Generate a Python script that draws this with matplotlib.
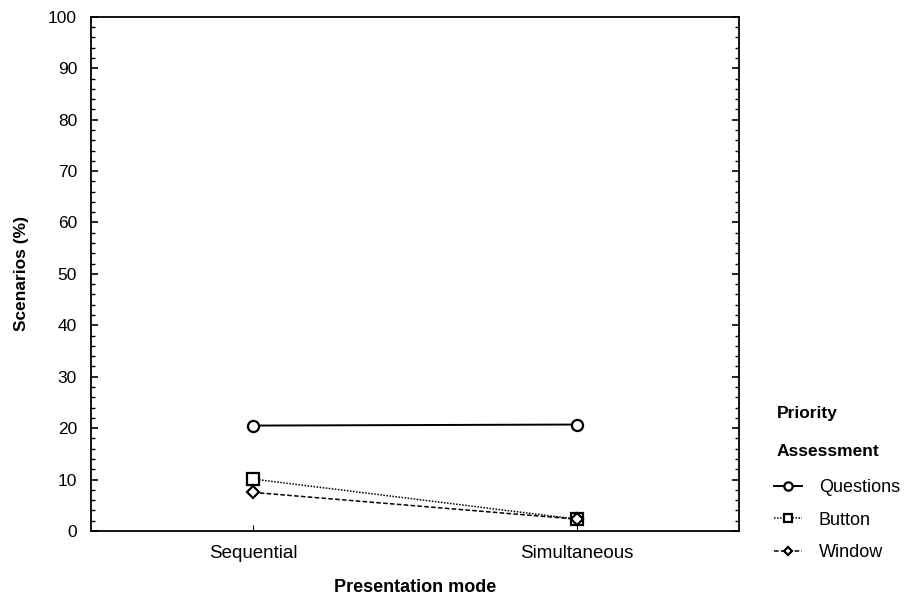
import numpy as np
import matplotlib.pyplot as plt
from matplotlib.ticker import MultipleLocator

plt.rcParams['font.family'] = ['Liberation Sans', 'DejaVu Sans']

# Percentage of scenarios by presentation mode
modes = ['Sequential', 'Simultaneous']
questions = [20.5, 20.7]
button = [10.1, 2.3]
window = [7.5, 2.3]

fig = plt.figure(figsize=(9.19, 6.02), dpi=100)
ax = fig.add_axes([0.099, 0.118, 0.705, 0.854])

x = np.arange(len(modes))
ax.plot(x, questions, '-', color='black', lw=1.4, marker='o', ms=8,
        mfc='white', mec='black', mew=1.6, label='Questions')
ax.plot(x, button, linestyle=(0, (1, 1)), color='black', lw=1.1, marker='s', ms=8,
        mfc='white', mec='black', mew=1.6, label='Button')
ax.plot(x, window, linestyle=(0, (3, 1.5)), color='black', lw=1.1, marker='D', ms=6,
        mfc='white', mec='black', mew=1.6, label='Window')

ax.set_xlim(-0.5, 1.5)
ax.set_ylim(0, 100)
ax.set_xticks(x)
ax.set_xticklabels(modes)
ax.yaxis.set_major_locator(MultipleLocator(10))
ax.yaxis.set_minor_locator(MultipleLocator(2))
ax.tick_params(axis='y', which='both', direction='in', right=True, labelsize=12.5, pad=10)
ax.tick_params(axis='y', which='major', length=5, width=1.2)
ax.tick_params(axis='y', which='minor', length=3, width=1)
ax.tick_params(axis='x', direction='in', length=4, labelsize=13.5, pad=10)
for s in ax.spines.values():
    s.set_linewidth(1.3)

ax.set_ylabel('Scenarios (%)', fontsize=12.5, fontweight='bold', labelpad=14)
ax.set_xlabel('Presentation mode', fontsize=13, fontweight='bold', labelpad=12)

# Legend heading sits above the entries, outside the axes
fig.text(0.845, 0.313, 'Priority', fontsize=12.5, fontweight='bold', va='center')
fig.text(0.845, 0.250, 'Assessment', fontsize=12.5, fontweight='bold', va='center')
ax.legend(loc='upper left', bbox_to_anchor=(0.824, 0.231), bbox_transform=fig.transFigure,
          frameon=False, fontsize=13, handlelength=1.6, handletextpad=0.9,
          labelspacing=0.85, markerscale=0.75)

plt.savefig('out.png', dpi=100)
